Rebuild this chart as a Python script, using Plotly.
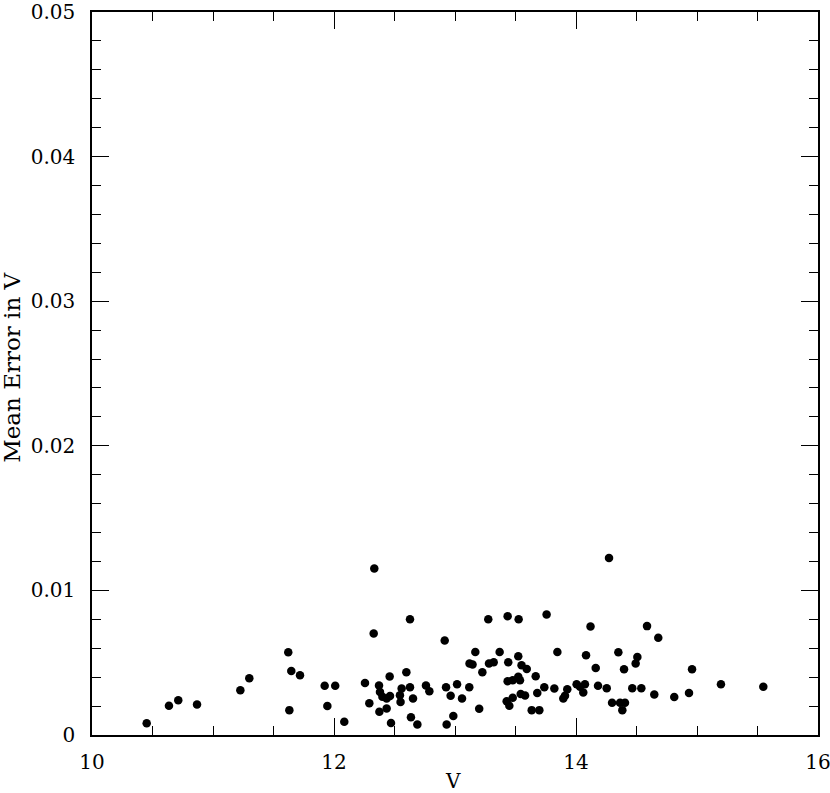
import plotly.graph_objects as go

# V magnitude of each star
v_mag = [10.452, 10.636, 10.713, 10.868, 11.226, 11.30, 11.622, 11.647, 11.719, 11.631,
         11.923, 11.945, 12.01, 12.085, 12.256, 12.333, 12.328, 12.292, 12.372, 12.38,
         12.40, 12.463, 12.435, 12.375, 12.435, 12.46, 12.471, 12.598, 12.628, 12.559,
         12.628, 12.545, 12.55, 12.653, 12.636, 12.689, 12.76, 12.788, 12.915, 12.926,
         12.964, 12.931, 12.986, 13.017, 13.058, 13.118, 13.168, 13.12, 13.145, 13.226,
         13.20, 13.275, 13.281, 13.32, 13.369, 13.435, 13.526, 13.44, 13.523, 13.55,
         13.593, 13.667, 13.435, 13.477, 13.523, 13.537, 13.427, 13.449, 13.477, 13.543,
         13.579, 13.634, 13.697, 13.68, 13.738, 13.757, 13.846, 13.821, 13.928, 13.909,
         13.895, 14.005, 14.273, 14.12, 14.083, 14.163, 14.074, 14.06, 14.033, 14.182,
         14.254, 14.298, 14.35, 14.397, 14.364, 14.405, 14.383, 14.465, 14.54, 14.493,
         14.507, 14.587, 14.68, 14.647, 14.812, 14.934, 14.959, 15.198, 15.548]

# mean error in V for each star
mean_err = [0.00081, 0.00202, 0.00241, 0.00211, 0.0031, 0.00393, 0.00572, 0.00443, 0.00413, 0.00172,
            0.0034, 0.0020, 0.0034, 0.00092, 0.0036, 0.01152, 0.00702, 0.0022, 0.00342, 0.00298,
            0.00264, 0.00269, 0.00253, 0.00161, 0.00184, 0.00404, 0.00083, 0.00434, 0.00801, 0.00321,
            0.00331, 0.00275, 0.00229, 0.00253, 0.00122, 0.00073, 0.00342, 0.00303, 0.00654, 0.00331,
            0.00271, 0.00073, 0.00131, 0.00351, 0.00253, 0.00331, 0.00574, 0.00494, 0.00488, 0.00434,
            0.00181, 0.00801, 0.00494, 0.00503, 0.00574, 0.00822, 0.00801, 0.00503, 0.00544, 0.00482,
            0.00457, 0.00406, 0.00372, 0.00379, 0.00402, 0.00379, 0.00234, 0.00202, 0.00257, 0.00284,
            0.00273, 0.00172, 0.00172, 0.00291, 0.00331, 0.00833, 0.00574, 0.00321, 0.00317, 0.00271,
            0.00253, 0.00351, 0.01224, 0.00751, 0.00551, 0.00464, 0.00351, 0.00294, 0.00333, 0.0034,
            0.00324, 0.00223, 0.00572, 0.00455, 0.00223, 0.00223, 0.00172, 0.00324, 0.00324, 0.00494,
            0.00539, 0.00753, 0.00673, 0.0028, 0.00262, 0.00291, 0.00455, 0.00351, 0.00333]

x_ticks = [10, 12, 14, 16]
x_tick_text = ["10", "12", "14", "16"]
y_ticks = [0, 0.01, 0.02, 0.03, 0.04, 0.05]
y_tick_text = ["0", "0.01", "0.02", "0.03", "0.04", "0.05"]

x_title = "V"
y_title = "Mean Error in V"

x_range = [10, 16]
y_range = [0, 0.05]

FONT = "DejaVu Serif"

fig = go.Figure(go.Scatter(
    x=v_mag, y=mean_err, mode="markers",
    marker=dict(symbol="circle", size=8.5, color="black", line=dict(width=0)),
    showlegend=False, cliponaxis=False,
))

axis_common = dict(
    showgrid=False, zeroline=False, showline=True, linecolor="black", linewidth=1.5,
    mirror="ticks", ticks="inside", ticklen=17, tickwidth=1.2, tickcolor="black",
    tickfont=dict(family=FONT, size=20, color="black"), automargin=False,
    tickmode="array", ticklabeloverflow="allow",
)

fig.update_xaxes(range=x_range, tickvals=x_ticks, ticktext=x_tick_text,
                 minor=dict(ticks="inside", ticklen=9, dtick=0.5, tick0=10, tickwidth=1.2, tickcolor="black"),
                 ticklabelstandoff=8,
                 **axis_common)
fig.update_yaxes(range=y_range, tickvals=y_ticks, ticktext=y_tick_text,
                 minor=dict(ticks="inside", ticklen=9, dtick=0.002, tick0=0, tickwidth=1.2, tickcolor="black"),
                 ticklabelstandoff=11,
                 **axis_common)

fig.add_annotation(text=x_title, xref="paper", yref="paper", x=0.497, y=-0.063,
                   xanchor="center", yanchor="middle", showarrow=False,
                   font=dict(family=FONT, size=20, color="black"))
fig.add_annotation(text=y_title, xref="paper", yref="paper", x=-0.110, y=0.508,
                   xanchor="center", yanchor="middle", showarrow=False, textangle=-90,
                   font=dict(family=FONT, size=23, color="black"))

fig.update_layout(
    width=830, height=793,
    margin=dict(l=92, r=12, t=12, b=58),
    plot_bgcolor="white", paper_bgcolor="white",
)

fig.write_html("out.html", config={"displayModeBar": False},
               post_script="document.body.style.margin='0px';")
